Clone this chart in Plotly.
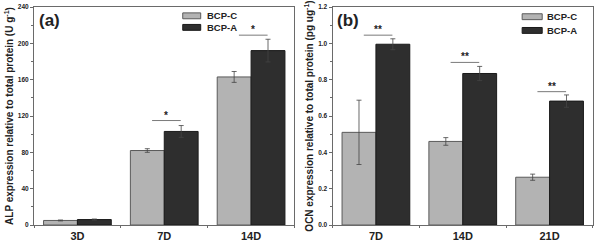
import plotly.graph_objects as go
from plotly.subplots import make_subplots

# ---- data ----
cats_a = ["3D", "7D", "14D"]
alp_c = [5, 82, 163]
alp_c_err = [0.5, 2, 6]
alp_a = [6, 103, 192]
alp_a_err = [0.6, 6.5, 12.5]
sig_a = ["", "*", "*"]
sig_a_y = [None, 115, 209]

cats_b = ["7D", "14D", "21D"]
ocn_c = [0.51, 0.46, 0.263]
ocn_c_err = [0.177, 0.021, 0.017]
ocn_a = [0.995, 0.834, 0.682]
ocn_a_err = [0.03, 0.039, 0.034]
sig_b = ["**", "**", "**"]
sig_b_y = [1.045, 0.895, 0.734]

series_names = ["BCP-C", "BCP-A"]
series_colors = ["#b3b3b3", "#2e2e2e"]
edge_colors = ["#5a5a5a", "#1a1a1a"]

FONT = "Arial, Liberation Sans, sans-serif"

fig = make_subplots(rows=1, cols=2, horizontal_spacing=0.068)

def add_panel(col, cats, c_vals, c_err, a_vals, a_err):
    xs = list(range(len(cats)))
    for vals, errs, name, color, edge in [
        (c_vals, c_err, series_names[0], series_colors[0], edge_colors[0]),
        (a_vals, a_err, series_names[1], series_colors[1], edge_colors[1]),
    ]:
        fig.add_trace(go.Bar(
            x=xs, y=vals, name=name, showlegend=False,
            marker=dict(color=color, line=dict(color=edge, width=1)),
            error_y=dict(type="data", array=errs, color="#444444",
                         thickness=0.8, width=2.5),
        ), row=1, col=col)

add_panel(1, cats_a, alp_c, alp_c_err, alp_a, alp_a_err)
add_panel(2, cats_b, ocn_c, ocn_c_err, ocn_a, ocn_a_err)

fig.update_layout(
    width=597, height=245,
    margin=dict(l=34, r=3, t=5, b=16),
    barmode="group", bargap=0.22, bargroupgap=0,
    plot_bgcolor="white", paper_bgcolor="white",
    font=dict(family=FONT, color="#222222"),
)
fig.update_xaxes(domain=[0, 0.466], row=1, col=1)
fig.update_xaxes(domain=[0.534, 1.0], row=1, col=2)

axis_line = dict(showline=True, linecolor="#6a6a6a", linewidth=1, mirror=True,
                 showgrid=False, zeroline=False)

for col, cats in [(1, cats_a), (2, cats_b)]:
    fig.update_xaxes(
        range=[-0.5, len(cats) - 0.5],
        tickmode="array", tickvals=list(range(len(cats))), ticktext=cats,
        ticks="", tickfont=dict(size=11, family=FONT, color="#222", weight="bold"),
        ticklabelstandoff=1,
        minor=dict(tickmode="linear", tick0=0.5, dtick=1, ticks="outside",
                   ticklen=2, tickcolor="#6a6a6a"),
        **axis_line, row=1, col=col)

fig.update_yaxes(
    range=[0, 240], tickmode="linear", tick0=0, dtick=40,
    ticks="outside", ticklen=3, tickcolor="#6a6a6a",
    tickfont=dict(size=6.5, family=FONT, color="#222", weight="bold"),
    minor=dict(dtick=20, ticks="outside", ticklen=2, tickcolor="#6a6a6a"),
    title=dict(text="<b>ALP expression relative to total protein (U g<sup>-1</sup>)</b>",
               font=dict(size=10, family=FONT, color="#222", weight="bold"), standoff=2),
    **axis_line, row=1, col=1)
fig.update_yaxes(
    range=[0, 1.2], tickmode="linear", tick0=0, dtick=0.2, tickformat=".1f",
    ticks="outside", ticklen=3, tickcolor="#6a6a6a",
    tickfont=dict(size=6.5, family=FONT, color="#222", weight="bold"),
    minor=dict(dtick=0.1, ticks="outside", ticklen=2, tickcolor="#6a6a6a"),
    title=dict(text="<b>OCN expression relative to total protein (pg ug<sup>-1</sup>)</b>",
               font=dict(size=10, family=FONT, color="#222", weight="bold"), standoff=2),
    **axis_line, row=1, col=2)

# significance markers
def add_sig(xref, yref, labels, ys):
    for i, (lab, yv) in enumerate(zip(labels, ys)):
        if not lab:
            continue
        fig.add_shape(type="line", xref=xref, yref=yref,
                      x0=i - 0.14, x1=i + 0.19, y0=yv, y1=yv,
                      line=dict(color="#7a7a7a", width=1))
        fig.add_annotation(x=i + 0.025, y=yv, xref=xref, yref=yref, text=f"<b>{lab}</b>",
                           showarrow=False, yanchor="bottom", yshift=-2,
                           font=dict(size=10, family=FONT, color="#222"))

add_sig("x", "y", sig_a, sig_a_y)
add_sig("x2", "y2", sig_b, sig_b_y)

# panel labels
for xr, yr, lab, xx in [("x domain", "y domain", "(a)", 0.011), ("x2 domain", "y2 domain", "(b)", 0.008)]:
    fig.add_annotation(x=xx, y=0.94, xref=xr, yref=yr, text=f"<b>{lab}</b>",
                       showarrow=False, xanchor="left", yanchor="middle",
                       font=dict(size=17, family=FONT, color="#222"))

# legends (drawn per panel)
legend_specs = [
    ("x domain", "y domain", 0.571, 0.640, 0.655, [(0.946, 0.973), (0.893, 0.920)]),
    ("x2 domain", "y2 domain", 0.728, 0.805, 0.816, [(0.942, 0.969), (0.879, 0.906)]),
]
for xr, yr, rx0, rx1, tx, rows in legend_specs:
    for k, (y0, y1) in enumerate(rows):
        fig.add_shape(type="rect", xref=xr, yref=yr, x0=rx0, x1=rx1, y0=y0, y1=y1,
                      fillcolor=series_colors[k], line=dict(color=edge_colors[k], width=1))
        fig.add_annotation(x=tx, y=(y0 + y1) / 2, xref=xr, yref=yr,
                           text=f"<b>{series_names[k]}</b>", showarrow=False,
                           xanchor="left", yanchor="middle",
                           font=dict(size=9.5, family=FONT, color="#222"))

fig.write_html("out.html",
               config={"displayModeBar": False},
               post_script="document.body.style.margin='0';document.body.style.overflow='hidden';")
